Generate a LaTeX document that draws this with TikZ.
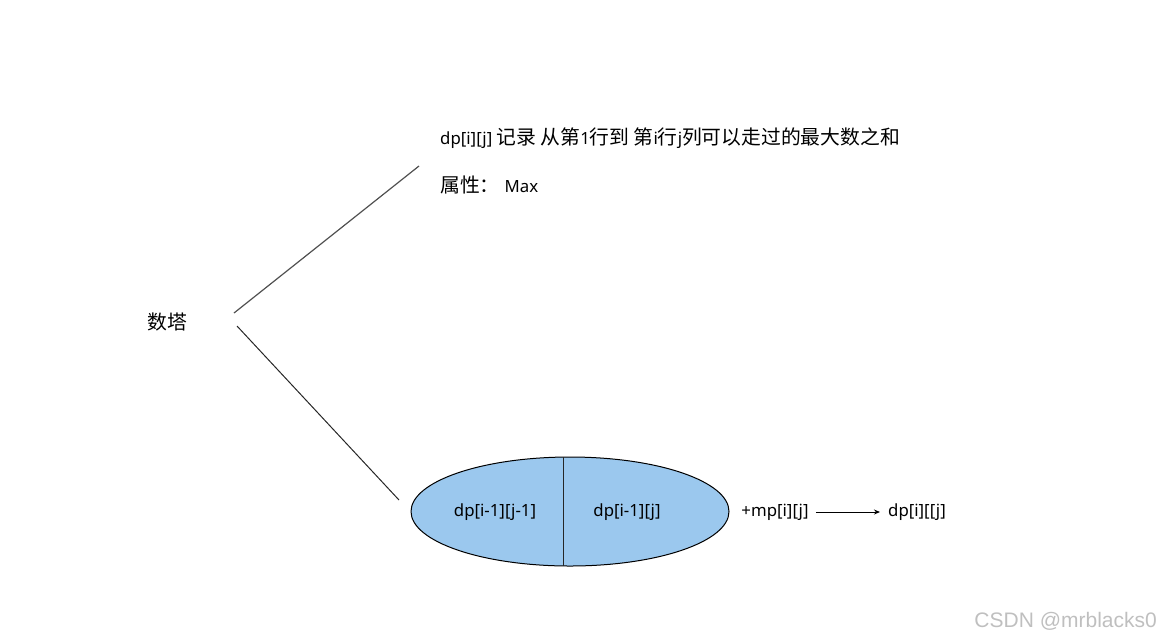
\documentclass[tikz,border=0pt]{standalone}
\usepackage{fontspec}
\setmainfont{Noto Sans}
\newfontfamily\cjkfont{Noto Sans CJK SC}
\newfontfamily\wmfont{Liberation Sans}
\newcommand{\zh}[1]{{\cjkfont\fontsize{19.8}{22}\selectfont #1}}
\usetikzlibrary{arrows.meta,shapes.geometric}
\definecolor{ellblue}{HTML}{9BC8EE}
\definecolor{linegray}{HTML}{505050}
\tikzset{
  lbl/.style={inner sep=0pt, font=\fontsize{16.8}{20}\selectfont},
  conn/.style={line width=1.2pt, linegray},
}
\begin{document}
\begin{tikzpicture}[x=1pt,y=-1pt]
\useasboundingbox (0,0) rectangle (1161,641);
\node[lbl] (ta) at (167,322) {\zh{数塔}};
\node[lbl, anchor=west] (def) at (440,138) {dp[i][j] \zh{记录} \zh{从第}1\zh{行到} \zh{第}i\zh{行}j\zh{列可以走过的最大数之和}};
\node[lbl, anchor=west] (attr) at (440,185) {\zh{属性：}\hspace{5pt}Max};
\coordinate (a1) at (234,313);
\coordinate (a2) at (419,166);
\coordinate (b1) at (237,326);
\coordinate (b2) at (399,500);
\draw[conn] (a1) -- (a2);
\draw[line width=1pt, black!85] (b1) -- (b2);
\node[draw=black, line width=1pt, fill=ellblue, ellipse, minimum width=318, minimum height=109, inner sep=0pt] (ell) at (570,511.5) {};
\coordinate (vt) at (563,457);
\coordinate (vb) at (563,566);
\draw[line width=1pt, black!85] (vt) -- (vb);
\node[lbl] (l1) at (495,512) {dp[i-1][j-1]};
\node[lbl] (l2) at (627,512) {dp[i-1][j]};
\node[lbl] (mp) at (775,512) {+mp[i][j]};
\node[lbl] (res) at (917,512) {dp[i][[j]};
\draw[-{Stealth[length=6pt,width=5pt]}, line width=0.9pt] ([xshift=7]mp.east) -- ([xshift=-8]res.west);
\node[inner sep=0pt, anchor=east, font=\wmfont\fontsize{21}{24}\selectfont, text=black!25] (wm) at (1157,621) {CSDN @mrblacks0};
\end{tikzpicture}
\end{document}
